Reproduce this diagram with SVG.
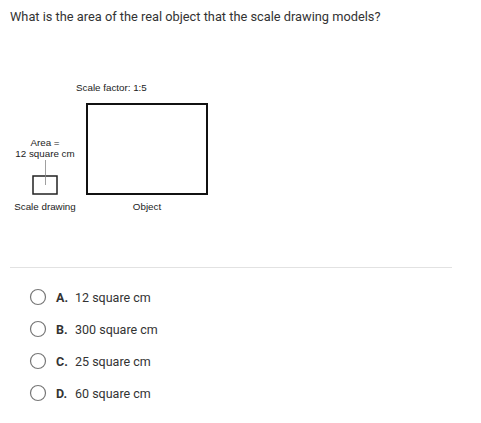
<svg xmlns="http://www.w3.org/2000/svg" width="481" height="423" viewBox="0 0 481 423">
<style>
.q{font-family:Roboto,"Liberation Sans",sans-serif;font-size:12.8px;fill:#333}
.d{font-family:"Liberation Sans",Arial,sans-serif;font-size:9.8px;fill:#222}
.opt{font-family:Roboto,"Liberation Sans",sans-serif;font-size:12.5px;fill:#333}
.lt{font-weight:bold}
.rad{fill:#fff;stroke:#777;stroke-width:1.2}
</style>
<rect width="481" height="423" fill="#fff"/>
<text class="q" x="10" y="21">What is the area of the real object that the scale drawing models?</text>
<g id="scale-label"><text class="d" x="76" y="91">Scale factor: 1:5</text></g>
<g id="object"><rect x="87" y="104" width="120" height="90" fill="none" stroke="#111" stroke-width="2"/><text class="d" x="147" y="210" text-anchor="middle">Object</text></g>
<g id="scale-drawing"><rect x="33" y="176" width="24" height="18" fill="none" stroke="#222" stroke-width="1.5"/><text class="d" x="45" y="210" text-anchor="middle">Scale drawing</text></g>
<g id="area-label"><text class="d" x="45" y="146" text-anchor="middle">Area =</text><text class="d" x="45" y="157" text-anchor="middle">12 square cm</text></g>
<g id="connectors"><line x1="45.5" y1="160" x2="45.5" y2="185" stroke="#888" stroke-width="0.8"/></g>
<line x1="10" y1="267.5" x2="452" y2="267.5" stroke="#e2e2e2" stroke-width="1"/>
<g id="optA"><circle class="rad" cx="38" cy="297" r="7.5"/><text class="opt lt" x="56" y="301.5">A.</text><text class="opt" x="75" y="301.5">12 square cm</text></g>
<g id="optB"><circle class="rad" cx="38" cy="329" r="7.5"/><text class="opt lt" x="56" y="333.5">B.</text><text class="opt" x="75" y="333.5">300 square cm</text></g>
<g id="optC"><circle class="rad" cx="38" cy="361" r="7.5"/><text class="opt lt" x="56" y="365.5">C.</text><text class="opt" x="75" y="365.5">25 square cm</text></g>
<g id="optD"><circle class="rad" cx="38" cy="393" r="7.5"/><text class="opt lt" x="56" y="397.5">D.</text><text class="opt" x="75" y="397.5">60 square cm</text></g>
</svg>
